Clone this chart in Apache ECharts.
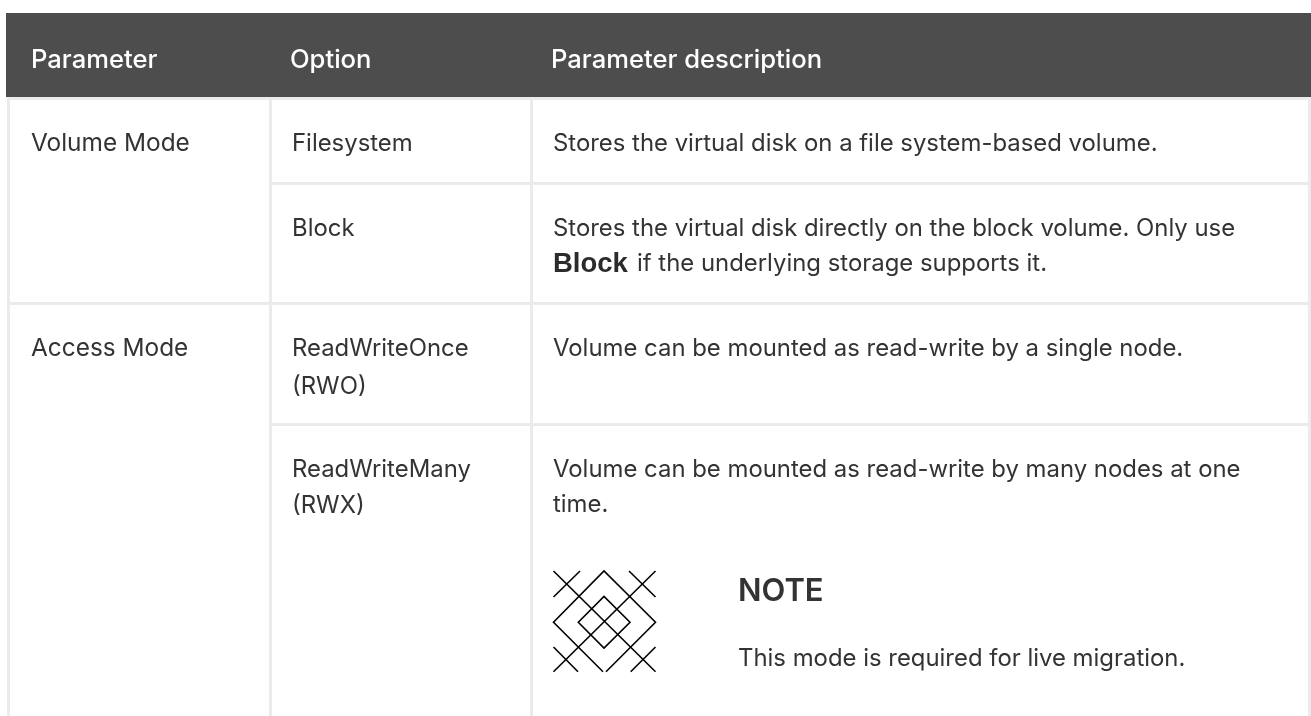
<!DOCTYPE html>
<html><head><meta charset="utf-8">
<style>html,body{margin:0;padding:0;background:#fff}#c{width:1311px;height:716px}</style>
<script src="https://cdn.jsdelivr.net/npm/echarts@6/dist/echarts.min.js"></script>
</head><body><div id="c"></div>
<script>
const headers = ['Parameter', 'Option', 'Parameter description'];
const parameters = ['Volume Mode', 'Access Mode'];
const options = ['Filesystem', 'Block', 'ReadWriteOnce\n(RWO)', 'ReadWriteMany\n(RWX)'];
const descriptions = [
  'Stores the virtual disk on a file system-based volume.',
  'Stores the virtual disk directly on the block volume. Only use',
  'if the underlying storage supports it.',
  'Volume can be mounted as read-write by a single node.',
  'Volume can be mounted as read-write by many nodes at one',
  'time.'
];
const boldWord = 'Block';
const noteTitle = 'NOTE';
const noteBody = 'This mode is required for live migration.';

const BODY = 'Inter, sans-serif';
const BORDER = '#ebebeb', INK = '#333333';
const g = [];
const rect = (x, y, w, h, fill) => g.push({type:'rect', shape:{x, y, width:w, height:h}, style:{fill}, silent:true});
const text = (x, y, t, o = {}) => g.push({type:'text', x, y, silent:true, style:Object.assign({
  text:t, fill:INK, font:`400 23.9px ${BODY}`, verticalAlign:'middle'}, o)});

// frame
rect(6, 13, 1305, 84, '#4d4d4d');
rect(7, 97, 1304, 3, BORDER);
rect(7, 97, 3, 619, BORDER);
rect(1308, 97, 3, 619, BORDER);
rect(269, 97, 3, 619, BORDER);
rect(530, 97, 3, 619, BORDER);
rect(272, 182, 1039, 3, BORDER);
rect(7, 302, 1304, 3, BORDER);
rect(272, 423, 1039, 3, BORDER);

// header
[31, 290, 551].forEach((x, i) => text(x, 60, headers[i], {fill:'#fff', font:`500 25.6px ${BODY}`}));
// first column
text(31, 144, parameters[0], {font:`400 24.4px ${BODY}`});
text(31, 349, parameters[1], {font:`400 24.4px ${BODY}`});
// second column
text(292, 144, options[0]);
text(292, 229, options[1]);
text(292, 349, options[2].split('\n')[0]);
text(292, 387, options[2].split('\n')[1]);
text(292, 470, options[3].split('\n')[0]);
text(292, 506, options[3].split('\n')[1]);
// third column
text(553, 144, descriptions[0]);
text(553, 229, descriptions[1]);
text(553, 264, boldWord, {font:'700 27.5px "Liberation Sans"', fill:'#2b2b2b'});
text(637, 264, descriptions[2]);
text(553, 349, descriptions[3]);
text(553, 470, descriptions[4]);
text(553, 505, descriptions[5]);
// note
text(738, 592, noteTitle, {font:`600 31px ${BODY}`});
text(738, 659, noteBody);

// note icon
const L = (a, b, c, d) => g.push({type:'line', silent:true, shape:{x1:a, y1:b, x2:c, y2:d}, style:{stroke:'#000', lineWidth:1.6}});
L(553.5,571,655.5,671.7); L(655.5,571,553.5,671.7);
L(580,571,553.5,597); L(629,571,655.5,597); L(553.5,647,578,671.7); L(655.5,647,630.7,671.7);
g.push({type:'polyline', silent:true, shape:{points:[[603,671.7],[553.5,622.3],[604,571],[655.5,622.3],[606,671.7]]}, style:{stroke:'#000', fill:'none', lineWidth:1.6}});
g.push({type:'polygon', silent:true, shape:{points:[[578.3,622.3],[604,596.5],[630,622.3],[604,648]]}, style:{stroke:'#000', fill:'none', lineWidth:1.6}});

const chart = echarts.init(document.getElementById('c'), null, {renderer:'canvas', width:1311, height:716});
chart.setOption({animation:false, backgroundColor:'#fff', graphic:{elements:g}});
</script></body></html>
